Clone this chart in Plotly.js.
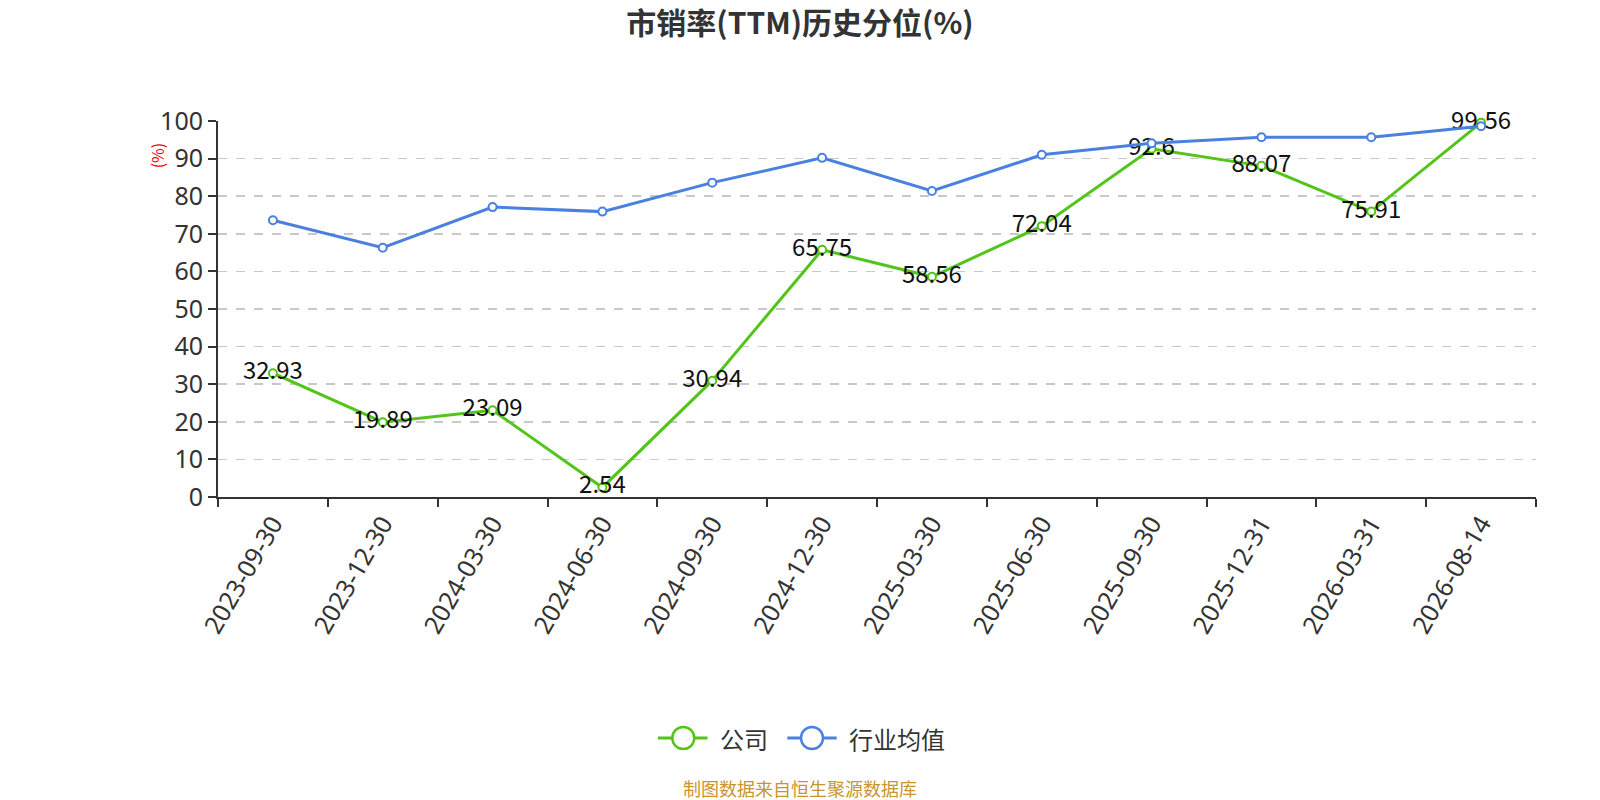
<!DOCTYPE html>
<html>
<head>
<meta charset="utf-8">
<script src="https://cdn.plot.ly/plotly-3.0.1.min.js"></script>
<style>html,body{margin:0;padding:0;background:#fff;}#chart{width:1600px;height:800px;}</style>
</head>
<body>
<div id="chart"></div>
<script>
const dates = ["2023-09-30","2023-12-30","2024-03-30","2024-06-30","2024-09-30","2024-12-30","2025-03-30","2025-06-30","2025-09-30","2025-12-31","2026-03-31","2026-08-14"];
const companyValues = [32.93, 19.89, 23.09, 2.54, 30.94, 65.75, 58.56, 72.04, 92.6, 88.07, 75.91, 99.56];
const industryValues = [73.6, 66.3, 77.1, 75.9, 83.6, 90.2, 81.4, 91.0, 94.1, 95.7, 95.7, 98.6];
const yTicks = [0,10,20,30,40,50,60,70,80,90,100];
const seriesNames = ['公司', '行业均值'];

const cjk = '"Noto Sans CJK SC", "Noto Sans", sans-serif';
const green = '#52c41a';
const blue = '#4a80e0';
const colors = [green, blue];

const W = 1600, H = 800;
const M = {l: 218, r: 64, t: 120.7, b: 303.3};
const PW = W - M.l - M.r, PH = H - M.t - M.b;
const px = x => (x - M.l) / PW;
const py = y => (H - M.b - y) / PH;

const traces = [
  {
    x: dates, y: companyValues, name: seriesNames[0], type: 'scatter', mode: 'lines+markers+text',
    text: companyValues.map(v => String(v)), textposition: 'middle center',
    textfont: {family: cjk, size: 24, color: '#111'},
    line: {color: green, width: 3},
    marker: {symbol: 'circle', size: 8, color: '#fff', line: {color: green, width: 2}},
    cliponaxis: false, hoverinfo: 'x+y'
  },
  {
    x: dates, y: industryValues, name: seriesNames[1], type: 'scatter', mode: 'lines+markers',
    line: {color: blue, width: 3},
    marker: {symbol: 'circle', size: 8, color: '#fff', line: {color: blue, width: 2}},
    cliponaxis: false, hoverinfo: 'x+y'
  }
];

// custom legend (centred on the page like the reference)
const legendY = 737.7;
const legendItems = [
  {lineX0: 658, lineX1: 707.5, cx: 683.3, textX: 718},
  {lineX0: 787.3, lineX1: 836.7, cx: 812, textX: 846.5}
];
const shapes = [];
const annotations = [];
legendItems.forEach((it, i) => {
  shapes.push({type: 'line', xref: 'paper', yref: 'paper', x0: px(it.lineX0), x1: px(it.lineX1),
               y0: py(legendY), y1: py(legendY), line: {color: colors[i], width: 3}});
  shapes.push({type: 'circle', xref: 'paper', yref: 'paper', x0: px(it.cx - 11), x1: px(it.cx + 11),
               y0: py(legendY + 11), y1: py(legendY - 11), fillcolor: '#fff', line: {color: colors[i], width: 2.5}});
  annotations.push({text: seriesNames[i], xref: 'paper', yref: 'paper', x: px(it.textX), y: py(legendY),
                    xanchor: 'left', yanchor: 'middle', showarrow: false,
                    font: {family: cjk, size: 24, color: '#333'}});
});
annotations.push({text: '(%)', xref: 'paper', yref: 'paper', x: px(157), y: py(155), xanchor: 'center', yanchor: 'middle',
   textangle: -90, showarrow: false, font: {family: cjk, size: 16, color: '#ff0000'}});
annotations.push({text: '制图数据来自恒生聚源数据库', xref: 'paper', yref: 'paper', x: px(800), y: py(788), xanchor: 'center', yanchor: 'middle',
   showarrow: false, font: {family: cjk, size: 18, color: '#c8952c'}});

const layout = {
  width: W, height: H,
  paper_bgcolor: '#fff', plot_bgcolor: '#fff',
  margin: M,
  font: {family: cjk, color: '#333'},
  title: {text: '<b>市销率(TTM)历史分位(%)</b>', x: 0.5, xanchor: 'center', y: 0.971, yanchor: 'middle',
          font: {family: cjk, size: 30, color: '#333'}},
  showlegend: false,
  xaxis: {
    type: 'category', range: [-0.5, dates.length - 0.5],
    tickson: 'boundaries', ticks: 'outside', ticklen: 8, tickwidth: 2, tickcolor: '#333',
    showline: true, linecolor: '#333', linewidth: 2, showgrid: false, zeroline: false,
    tickangle: -60, tickfont: {family: '"Noto Sans", sans-serif', size: 25, color: '#333'}
  },
  yaxis: {
    range: [0, 100], tickvals: yTicks, ticktext: yTicks.map(String),
    ticks: 'outside', ticklen: 8, tickwidth: 2, tickcolor: '#333',
    showline: true, linecolor: '#333', linewidth: 2, zeroline: false,
    showgrid: true, gridcolor: '#c8c8c8', griddash: 'dash', gridwidth: 1.5,
    tickfont: {family: '"Noto Sans", sans-serif', size: 25, color: '#333'}
  },
  shapes: shapes,
  annotations: annotations
};

Plotly.newPlot('chart', traces, layout, {displayModeBar: false, staticPlot: true});
</script>
</body>
</html>
